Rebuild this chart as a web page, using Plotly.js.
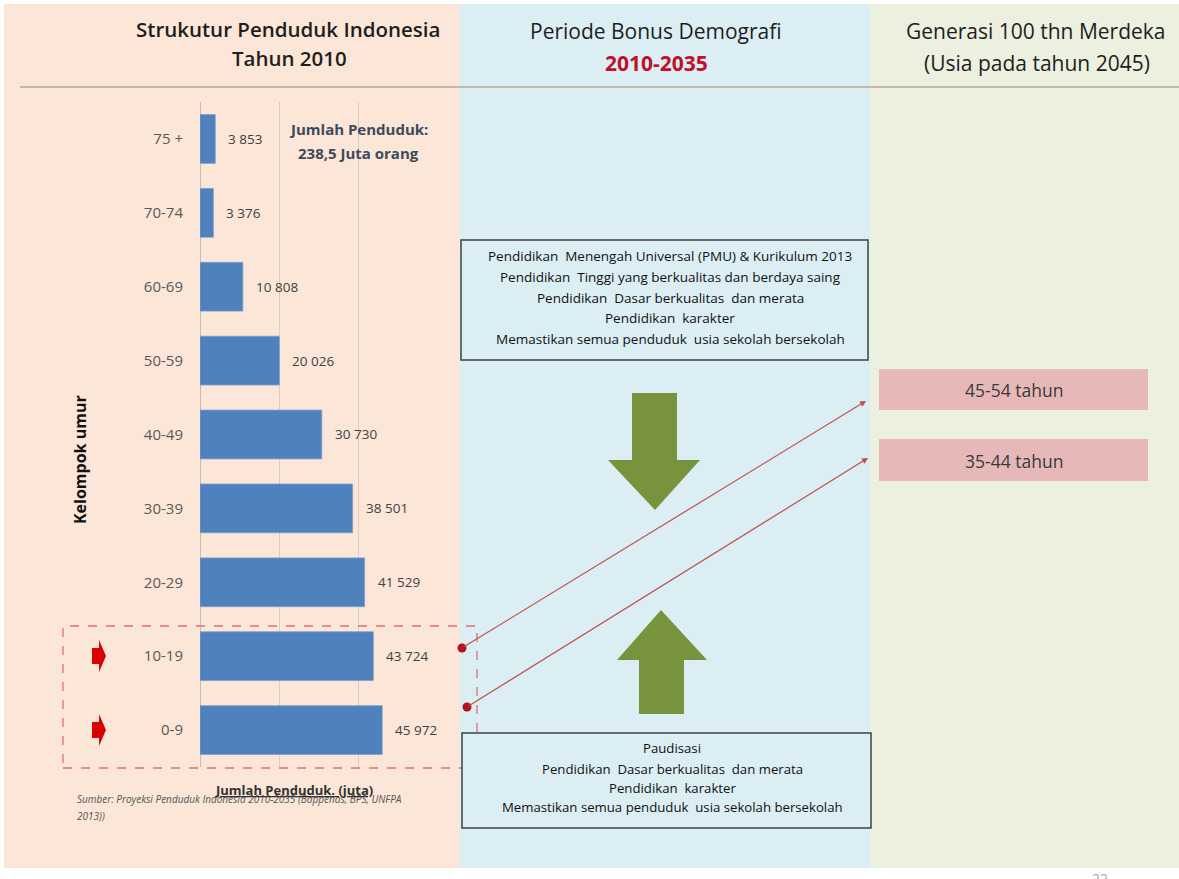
<!DOCTYPE html>
<html>
<head>
<meta charset="utf-8">
<script src="https://cdn.plot.ly/plotly-3.0.1.min.js"></script>
<style>
html,body{margin:0;padding:0;background:#ffffff;}
#chart{width:1179px;height:879px;}
</style>
</head>
<body>
<div id="chart"></div>
<script>
// ---- data ----
const ageGroups = ["75 +", "70-74", "60-69", "50-59", "40-49", "30-39", "20-29", "10-19", "0-9"];
const population = [3853, 3376, 10808, 20026, 30730, 38501, 41529, 43724, 45972];
const highlightedGroups = ["10-19", "0-9"];
const futureAges = ["45-54 tahun", "35-44 tahun"];
const headerLeft = ["Strukutur Penduduk Indonesia", "Tahun 2010"];
const headerMid = ["Periode Bonus Demografi", "2010-2035"];
const headerRight = ["Generasi 100 thn Merdeka", "(Usia pada tahun 2045)"];
const totalText = ["Jumlah Penduduk:", "238,5 Juta orang"];
const topBoxLines = [
  "Pendidikan  Menengah Universal (PMU) & Kurikulum 2013",
  "Pendidikan  Tinggi yang berkualitas dan berdaya saing",
  "Pendidikan  Dasar berkualitas  dan merata",
  "Pendidikan  karakter",
  "Memastikan semua penduduk  usia sekolah bersekolah"
];
const bottomBoxLines = [
  "Paudisasi",
  "Pendidikan  Dasar berkualitas  dan merata",
  "Pendidikan  karakter",
  "Memastikan semua penduduk  usia sekolah bersekolah"
];
const sourceText = ["Sumber: Proyeksi Penduduk Indonesia 2010-2035 (Bappenas, BPS, UNFPA", "2013))"];

// ---- helpers ----
const W = 1179, H = 879;
const px = x => x / W;
const py = y => 1 - y / H;
const FONT = '"Open Sans", Lato, "DejaVu Sans", sans-serif';
const fmt = v => String(v).replace(/\B(?=(\d{3})+(?!\d))/g, " ");

const shapes = [];
const annotations = [];

function rect(x0, y0, x1, y1, fill, line, layer) {
  shapes.push({type: "rect", xref: "paper", yref: "paper",
    x0: px(x0), x1: px(x1), y0: py(y1), y1: py(y0),
    fillcolor: fill, line: line || {width: 0}, layer: layer || "below"});
}
function path(points, fill, layer) {
  const d = "M" + points.map(p => px(p[0]) + "," + py(p[1])).join(" L") + " Z";
  shapes.push({type: "path", xref: "paper", yref: "paper", path: d,
    fillcolor: fill, line: {width: 0}, layer: layer || "above"});
}
function text(t, x, y, opts) {
  opts = opts || {};
  annotations.push(Object.assign({
    text: t, xref: "paper", yref: "paper", x: px(x), y: py(y),
    xanchor: "center", yanchor: "middle", showarrow: false,
    font: {family: FONT, size: 12, color: "#222222"}
  }, opts));
}

// ---- background panels ----
rect(4, 4, 460, 868, "#fce6d7");
rect(460, 4, 870, 868, "#dbeef4");
rect(870, 4, 1179, 868, "#ebf0df");
shapes.push({type: "line", xref: "paper", yref: "paper", x0: px(20), x1: 1, y0: py(87), y1: py(87),
  line: {color: "#c4b8ad", width: 2}, layer: "below"});

// headers
const hFont = {family: FONT, size: 21, color: "#1e1e1e", weight: "normal"};
text(headerLeft[0], 288, 29, {font: Object.assign({}, hFont, {size: 20.5, weight: 600})});
text(headerLeft[1], 289, 58, {font: Object.assign({}, hFont, {size: 20.5, weight: 600})});
text(headerMid[0], 656, 31, {font: hFont});
text(headerMid[1], 656, 63, {font: Object.assign({}, hFont, {color: "#c0102a", weight: "bold"})});
text(headerRight[0], 1036, 31, {font: hFont});
text(headerRight[1], 1037, 63, {font: hFont});

// total population note
text(totalText[0], 358, 129, {font: {family: FONT, size: 15, color: "#3d4a5a", weight: "bold"}});
text(totalText[1], 358, 153, {font: {family: FONT, size: 15, color: "#3d4a5a", weight: "bold"}});

// axis titles + source
text("Kelompok umur", 80, 460, {textangle: -90, font: {family: FONT, size: 16, color: "#111111", weight: "bold"}});
text(sourceText[0], 75, 799, {xanchor: "left", font: {family: FONT, size: 10, color: "#555555", style: "italic"}});
text(sourceText[1], 75, 816, {xanchor: "left", font: {family: FONT, size: 10, color: "#555555", style: "italic"}});
text("<u>Jumlah Penduduk. (juta)</u>", 294, 790, {font: {family: FONT, size: 13, color: "#333333", weight: "bold"}});

// red dashed selection box
shapes.push({type: "rect", xref: "paper", yref: "paper", x0: px(63), x1: px(477), y0: py(768), y1: py(626),
  line: {color: "#e0707a", width: 1.3, dash: "dash"}, fillcolor: "rgba(0,0,0,0)", layer: "above"});

// red small block arrows (pointing at highlighted groups)
const rowCenters = {"10-19": 656, "0-9": 730};
highlightedGroups.forEach(g => {
  const c = rowCenters[g];
  path([[92, c - 8], [99, c - 8], [99, c - 16], [106, c], [99, c + 16], [99, c + 8], [92, c + 8]], "#d90000");
});

// middle boxes
rect(461, 240, 868, 360, "#dbeef4", {color: "#404040", width: 1.5}, "above");
const boxY1 = [256, 277, 298, 318, 339];
topBoxLines.forEach((t, i) => text(t, 670, boxY1[i], {font: {family: FONT, size: 13.5, color: "#111111"}}));
rect(462, 733, 871, 828, "#dbeef4", {color: "#404040", width: 1.5}, "above");
const boxY2 = [748, 769, 788, 807];
bottomBoxLines.forEach((t, i) => text(t, 672, boxY2[i], {font: {family: FONT, size: 13.2, color: "#111111"}}));

// green arrows
path([[632, 393], [677, 393], [677, 460], [700, 460], [655, 510], [608, 460], [632, 460]], "#77933c");
path([[661, 610], [707, 660], [684, 660], [684, 714], [639, 714], [639, 660], [617, 660]], "#77933c");

// right pink boxes
rect(879, 369, 1148, 410, "#e6b9b8", null, "above");
rect(879, 439, 1148, 481, "#e6b9b8", null, "above");
text(futureAges[0], 1014, 390, {font: {family: FONT, size: 17.5, color: "#3a3a3a"}});
text(futureAges[1], 1014, 461, {font: {family: FONT, size: 17.5, color: "#3a3a3a"}});

// red connector arrows
const links = [[462, 648, 866, 401], [467, 707, 868, 458]];
links.forEach(l => {
  annotations.push({xref: "paper", yref: "paper", x: px(l[2]), y: py(l[3]),
    axref: "pixel", ayref: "pixel", ax: l[0] - l[2], ay: l[1] - l[3],
    showarrow: true, arrowhead: 2, arrowsize: 1, arrowwidth: 1.2, arrowcolor: "#c0504d", text: ""});
  shapes.push({type: "circle", xref: "paper", yref: "paper",
    x0: px(l[0] - 4.5), x1: px(l[0] + 4.5), y0: py(l[1] + 4.5), y1: py(l[1] - 4.5),
    fillcolor: "#b5121b", line: {width: 0}, layer: "above"});
});

// page number (cut off at bottom)
text("22", 1100, 867, {yanchor: "top", font: {family: FONT, size: 14, color: "#a8a8a8"}});

// data labels for bars (positioned by the bar axes)
ageGroups.forEach((g, i) => {
  annotations.push({xref: "x", yref: "y", x: population[i], y: g, text: fmt(population[i]),
    xanchor: "left", yanchor: "middle", xshift: 11, showarrow: false,
    font: {family: FONT, size: 13.5, color: "#404040"}});
});

const trace = {
  type: "bar", orientation: "h", x: population, y: ageGroups,
  marker: {color: "#4f81bd", line: {color: "#7aa0d0", width: 0.8}},
  hoverinfo: "x+y"
};

const layout = {
  width: W, height: H,
  margin: {l: 0, r: 0, t: 0, b: 0, pad: 0},
  paper_bgcolor: "#ffffff", plot_bgcolor: "rgba(0,0,0,0)",
  showlegend: false, bargap: 0.34,
  font: {family: FONT},
  xaxis: {domain: [px(200), px(438)], range: [0, 60050], dtick: 20000, tick0: 0,
    showgrid: true, gridcolor: "#d9cdc3", gridwidth: 1, zeroline: true, zerolinecolor: "#c9bdb3",
    showticklabels: false, ticks: "", fixedrange: true},
  yaxis: {domain: [py(767), py(102)], type: "category", autorange: "reversed",
    tickfont: {family: FONT, size: 15, color: "#595959"}, ticks: "", ticklabelstandoff: 16,
    showgrid: false, zeroline: false, showline: false, fixedrange: true},
  shapes: shapes, annotations: annotations
};

Plotly.newPlot("chart", [trace], layout, {displayModeBar: false, staticPlot: true});
</script>
</body>
</html>
